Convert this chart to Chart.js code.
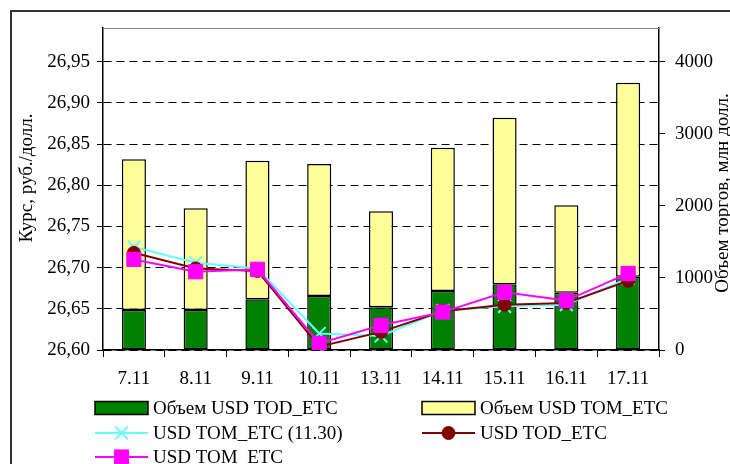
<!DOCTYPE html>
<html>
<head>
<meta charset="utf-8">
<script src="https://cdn.jsdelivr.net/npm/chart.js@4.4.0/dist/chart.umd.min.js"></script>
<style>
  body { margin: 0; background: #fff; }
</style>
</head>
<body>
<canvas id="chart" width="730" height="464"></canvas>
<script>
const dates = ['7.11', '8.11', '9.11', '10.11', '13.11', '14.11', '15.11', '16.11', '17.11'];
// объемы, млн долл.
const volTod = [555, 555, 703, 749, 592, 819, 911, 795, 1017];
const volTom = [2091, 1411, 1924, 1831, 1332, 1988, 2312, 1212, 2692];
// курсы, руб./долл.
const tom1130 = [26.725, 26.706, 26.699, 26.620, 26.617, 26.648, 26.653, 26.655, 26.687];
const todEtc = [26.718, 26.699, 26.696, 26.604, 26.622, 26.647, 26.655, 26.657, 26.684];
const tomEtc = [26.710, 26.695, 26.698, 26.608, 26.630, 26.646, 26.670, 26.660, 26.693];
const rateTicks = [26.60, 26.65, 26.70, 26.75, 26.80, 26.85, 26.90, 26.95];
const volTicks = [0, 1000, 2000, 3000, 4000];

const font = { family: 'Liberation Serif', size: 19 };

// legend, axis titles and frame drawn by hand
const extras = {
  id: 'extras',
  afterDraw(chart) {
    const ctx = chart.ctx;
    const area = chart.chartArea;
    ctx.save();
    // outer frame
    ctx.strokeStyle = '#333';
    ctx.lineWidth = 2;
    ctx.beginPath();
    ctx.moveTo(11, 464);
    ctx.lineTo(11, 11);
    ctx.lineTo(730, 11);
    ctx.stroke();
    // top edge of plot area
    ctx.strokeStyle = '#888';
    ctx.lineWidth = 1;
    ctx.beginPath();
    ctx.moveTo(area.left, area.top + 0.5);
    ctx.lineTo(area.right, area.top + 0.5);
    ctx.stroke();

    ctx.fillStyle = '#000';
    ctx.font = '19px "Liberation Serif"';
    ctx.textAlign = 'center';
    ctx.textBaseline = 'middle';
    ctx.save();
    ctx.translate(27, 178);
    ctx.rotate(-Math.PI / 2);
    ctx.fillText('Курс, руб./долл.', 0, 0);
    ctx.restore();
    ctx.save();
    ctx.translate(723, 193);
    ctx.rotate(-Math.PI / 2);
    ctx.fillText('Объем торгов, млн долл.', 0, 0);
    ctx.restore();

    // legend, two columns
    const colX = [95, 422];
    const rowY = [408, 433, 457];
    const w = 53;
    chart.data.datasets.forEach((ds, i) => {
      const x = colX[i % 2];
      const y = rowY[Math.floor(i / 2)];
      if (ds.type === 'bar') {
        ctx.fillStyle = ds.backgroundColor;
        ctx.fillRect(x, y - 6.5, w, 13);
        ctx.strokeStyle = '#000';
        ctx.lineWidth = 1.5;
        ctx.strokeRect(x, y - 6.5, w, 13);
      } else {
        ctx.strokeStyle = ds.borderColor;
        ctx.lineWidth = 2;
        ctx.beginPath();
        ctx.moveTo(x, y);
        ctx.lineTo(x + w, y);
        ctx.stroke();
        ctx.fillStyle = ds.pointBackgroundColor;
        ctx.strokeStyle = ds.pointBorderColor;
        ctx.lineWidth = ds.pointBorderWidth;
        Chart.helpers.drawPoint(ctx, {
          pointStyle: ds.pointStyle, radius: ds.pointRadius, rotation: 0, borderWidth: ds.pointBorderWidth
        }, x + w / 2, y);
      }
      ctx.fillStyle = '#000';
      ctx.textAlign = 'left';
      ctx.fillText(ds.label, x + w + 5, y + 1);
    });
    ctx.restore();
  }
};

new Chart(document.getElementById('chart'), {
  data: {
    labels: dates,
    datasets: [
      {
        type: 'bar', label: 'Объем USD TOD_ETC', data: volTod, yAxisID: 'y2', order: 10,
        backgroundColor: '#008000', borderColor: '#000', borderWidth: 1.5, borderSkipped: false,
        categoryPercentage: 1, barPercentage: 0.39
      },
      {
        type: 'bar', label: 'Объем USD TOM_ETC', data: volTom, yAxisID: 'y2', order: 10,
        backgroundColor: '#FFFF99', borderColor: '#000', borderWidth: 1.5, borderSkipped: false,
        categoryPercentage: 1, barPercentage: 0.39
      },
      {
        type: 'line', label: 'USD TOM_ETC (11.30)', data: tom1130, yAxisID: 'y', order: 3,
        borderColor: '#66FFFF', borderWidth: 2, tension: 0,
        pointStyle: 'crossRot', pointRadius: 9, pointBorderWidth: 2,
        pointBackgroundColor: '#66FFFF', pointBorderColor: '#66FFFF'
      },
      {
        type: 'line', label: 'USD TOD_ETC', data: todEtc, yAxisID: 'y', order: 2,
        borderColor: '#800000', borderWidth: 2, tension: 0,
        pointStyle: 'circle', pointRadius: 6.5, pointBorderWidth: 1,
        pointBackgroundColor: '#800000', pointBorderColor: '#800000'
      },
      {
        type: 'line', label: 'USD TOM_ETC', data: tomEtc, yAxisID: 'y', order: 1,
        borderColor: '#FF00FF', borderWidth: 2, tension: 0,
        pointStyle: 'rect', pointRadius: 10, pointBorderWidth: 1,
        pointBackgroundColor: '#FF00FF', pointBorderColor: '#FF00FF'
      }
    ]
  },
  options: {
    responsive: false,
    animation: false,
    layout: { padding: { top: 28 } },
    plugins: { legend: { display: false }, tooltip: { enabled: false } },
    scales: {
      x: {
        stacked: true,
        offset: true,
        grid: { drawOnChartArea: false, offset: true, tickLength: 7, color: '#000', lineWidth: 1 },
        border: { color: '#000', width: 1.5 },
        ticks: { font: font, color: '#000', padding: 11, maxRotation: 0, autoSkip: false },
        afterFit: s => { s.height = 114; }
      },
      y: {
        position: 'left',
        min: 26.6,
        max: 26.991,
        afterBuildTicks: s => { s.ticks = rateTicks.map(v => ({ value: v })); },
        grid: { color: '#000', lineWidth: 1, tickLength: 6, tickColor: '#000' },
        border: { color: '#000', width: 1.5, dash: [8, 5] },
        ticks: { font: font, color: '#000', padding: 7, callback: v => v.toFixed(2).replace('.', ',') },
        afterFit: s => { s.width = 103; }
      },
      y2: {
        position: 'right',
        stacked: true,
        min: 0,
        max: 4467,
        afterBuildTicks: s => { s.ticks = volTicks.map(v => ({ value: v })); },
        grid: { drawOnChartArea: false, tickLength: 6, color: '#000' },
        border: { color: '#000', width: 1.5 },
        ticks: { font: font, color: '#000', padding: 10, callback: v => String(v) },
        afterFit: s => { s.width = 71; }
      }
    }
  },
  plugins: [extras]
});
</script>
</body>
</html>
